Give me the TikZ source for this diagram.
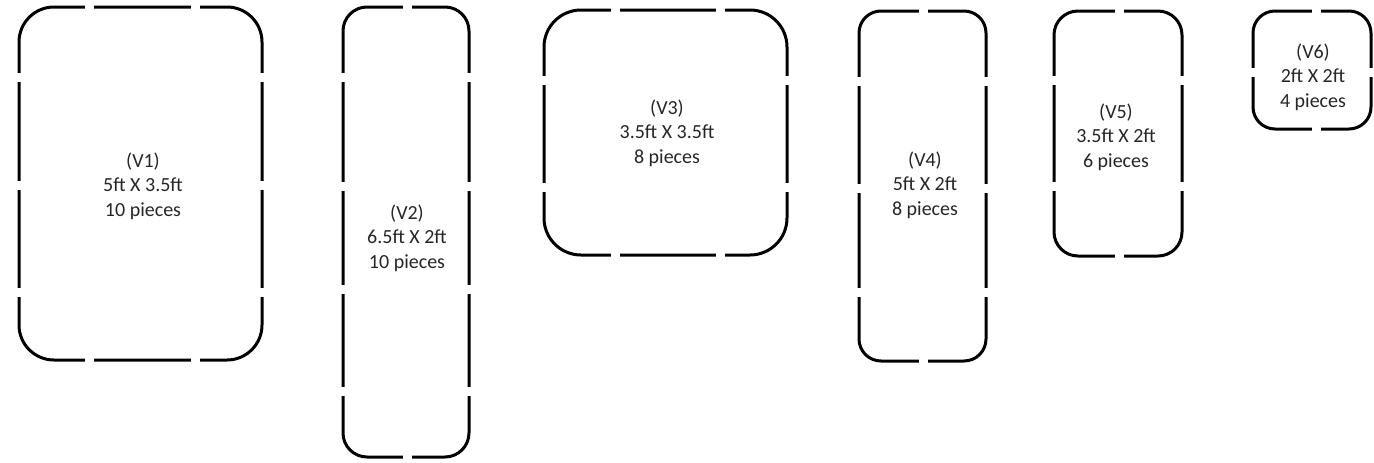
\documentclass[tikz,border=0pt]{standalone}
\usepackage{fontspec}
\setmainfont{Carlito}
\tikzset{
  boxline/.style={draw=black, line width=3pt},
  gapfill/.style={fill=white},
  lbl/.style={align=center, text=black!85, inner sep=0pt,
    font={\fontsize{20}{24.4}\selectfont}}
}
% #1 x0, #2 y0, #3 x1, #4 y1, #5 radius, #6 gaps on horizontal edges, #7 gaps on vertical edges
\newcommand\cutbox[7]{%
  \draw[boxline, rounded corners=#5pt] (#1,#2) rectangle (#3,#4);
  \foreach \g in {#6} {
    \fill[gapfill] (\g-4.5,#2-5) rectangle (\g+4.5,#2+5);
    \fill[gapfill] (\g-4.5,#4-5) rectangle (\g+4.5,#4+5);
  }
  \foreach \g in {#7} {
    \fill[gapfill] (#1-5,\g-4.5) rectangle (#1+5,\g+4.5);
    \fill[gapfill] (#3-5,\g-4.5) rectangle (#3+5,\g+4.5);
  }
}
\begin{document}
\begin{tikzpicture}[x=1pt, y=-1pt]
\useasboundingbox (0,0) rectangle (1374,463);
% V1
\cutbox{19}{7}{262}{360}{35}{89,195}{77,185,292}
\node[lbl] (v1) at (143,186) {(V1)\\5ft X 3.5ft\\10 pieces};
% V2
\cutbox{343}{7}{469}{457}{24}{407}{77,186,289,391}
\node[lbl] (v2) at (407,238) {(V2)\\6.5ft X 2ft\\10 pieces};
% V3
\cutbox{544}{10}{787}{255}{37}{615,720}{80,187}
\node[lbl] (v3) at (667,133) {(V3)\\3.5ft X 3.5ft\\8 pieces};
% V4
\cutbox{859}{11}{986}{361}{22}{923}{81,188,292}
\node[lbl] (v4) at (925,185) {(V4)\\5ft X 2ft\\8 pieces};
% V5
\cutbox{1054}{11}{1182}{256}{24}{1119}{80,186}
\node[lbl] (v5) at (1116,137) {(V5)\\3.5ft X 2ft\\6 pieces};
% V6
\cutbox{1253}{11}{1371}{129}{22}{1316}{72}
\node[lbl] (v6) at (1313,77) {(V6)\\2ft X 2ft\\4 pieces};
\end{tikzpicture}
\end{document}
